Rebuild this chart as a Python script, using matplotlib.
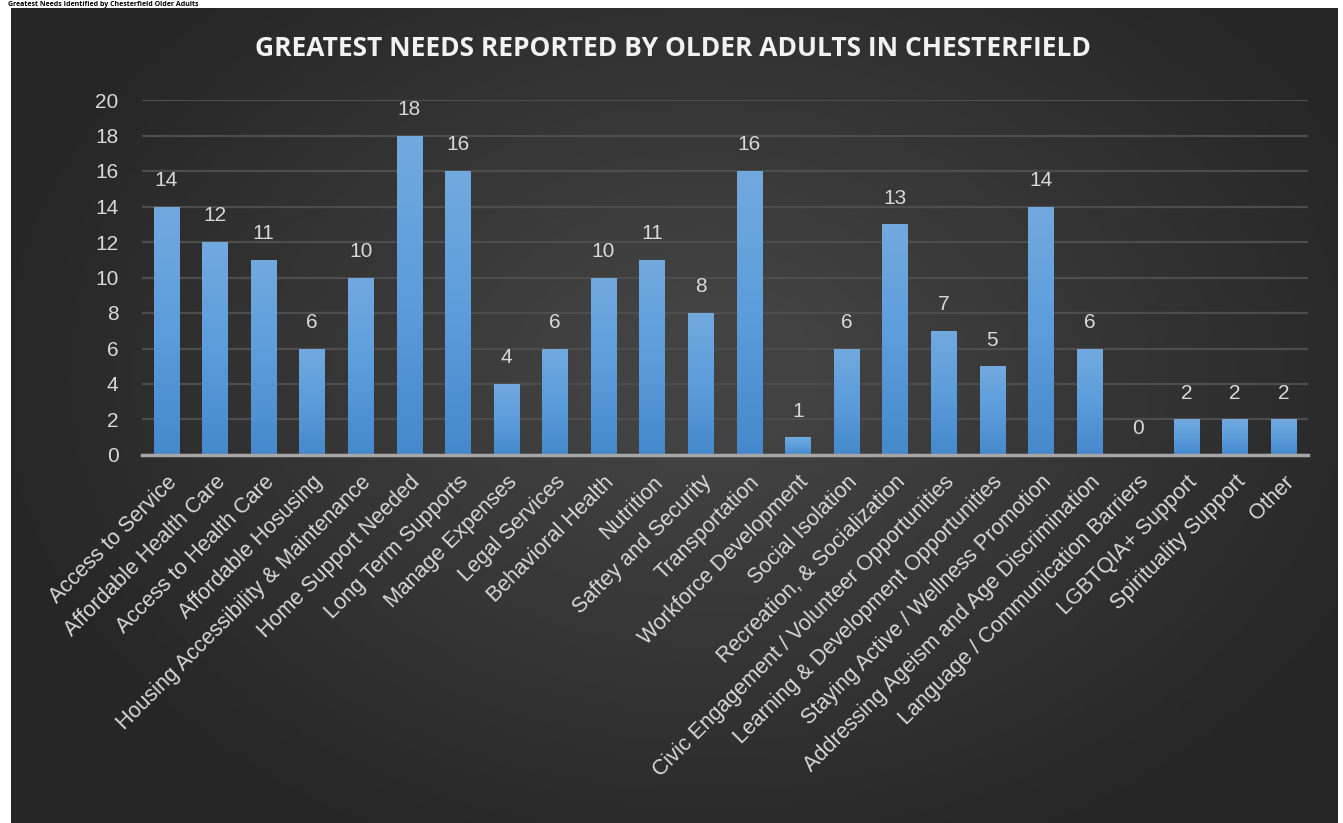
import numpy as np
import matplotlib
matplotlib.use("Agg")
import matplotlib.pyplot as plt
from matplotlib.colors import LinearSegmentedColormap

categories = [
    "Access to Service", "Affordable Health Care", "Access to Health Care",
    "Affordable Hosusing", "Housing Accessibility & Maintenance",
    "Home Support Needed", "Long Term Supports", "Manage Expenses",
    "Legal Services", "Behavioral Health", "Nutrition", "Saftey and Security",
    "Transportation", "Workforce Development", "Social Isolation",
    "Recreation, & Socialization", "Civic Engagement / Volunteer Opportunities",
    "Learning & Development Opportunities", "Staying Active / Wellness Promotion",
    "Addressing Ageism and Age Discrimination", "Language / Communication Barriers",
    "LGBTQIA+ Support", "Spirituality Support", "Other",
]
counts = [14, 12, 11, 6, 10, 18, 16, 4, 6, 10, 11, 8, 16, 1, 6, 13, 7, 5, 14, 6, 0, 2, 2, 2]
y_ticks = list(range(0, 21, 2))

title = "GREATEST NEEDS REPORTED BY OLDER ADULTS IN CHESTERFIELD"
cut_heading = "Greatest Needs Identified by Chesterfield Older Adults"

W, H = 1343, 823
fig = plt.figure(figsize=(W / 100, H / 100), dpi=100, facecolor="white")

# heading above the chart (cropped in the source, kept small here)
fig.text(8 / W, 1 - 4 / H, cut_heading, fontsize=5, fontweight="bold",
         color="black", family="Open Sans", ha="left", va="center")

# dark panel with soft radial gradient
bg = fig.add_axes([11 / W, 0, (1338 - 11) / W, (H - 8) / H])
bg.set_axis_off()
gx, gy = np.meshgrid(np.linspace(-1, 1, 400), np.linspace(-1, 1, 250))
r = np.sqrt(((gx - 0.05) / 1.1) ** 2 + ((gy + 0.1) / 1.3) ** 2)
shade = np.clip(1 - r, 0, 1)
bg_cmap = LinearSegmentedColormap.from_list("bg", ["#262626", "#424242"])
bg.imshow(shade, cmap=bg_cmap, aspect="auto", extent=[0, 1, 0, 1], vmin=0, vmax=0.85)
bg.set_xlim(0, 1)
bg.set_ylim(0, 1)

ax = fig.add_axes([142 / W, 1 - 455 / H, (1308 - 142) / W, (455 - 100) / H])
ax.patch.set_alpha(0)
x = np.arange(len(categories))
bars = ax.bar(x, counts, width=0.52, color="#5b9bd5", zorder=3)

# vertical gradient inside each bar
bar_cmap = LinearSegmentedColormap.from_list("bar", ["#4589cc", "#5c9ddb", "#72a9df"])
grad = np.linspace(0, 1, 256).reshape(-1, 1)
for b in bars:
    h = b.get_height()
    if h <= 0:
        continue
    x0 = b.get_x()
    im = ax.imshow(grad, cmap=bar_cmap, origin="lower", aspect="auto",
                   extent=[x0, x0 + b.get_width(), 0, h], zorder=3)
    im.set_clip_path(b)

ax.set_xlim(-0.5, len(categories) - 0.5)
ax.set_ylim(0, 20)
ax.set_yticks(y_ticks)
ax.set_yticklabels([str(t) for t in y_ticks], fontsize=15, color="#d9d9d9",
                   family="Liberation Sans")
ax.tick_params(axis="y", length=0, pad=17)
ax.tick_params(axis="x", length=0, pad=12)
ax.grid(axis="y", color="#4d4d4d", linewidth=1.6, zorder=1)
for s in ["top", "right", "left"]:
    ax.spines[s].set_visible(False)
ax.spines["bottom"].set_color("#a6a6a6")
ax.spines["bottom"].set_linewidth(2.5)
ax.spines["bottom"].set_zorder(4)

ax.set_xticks(x)
ax.set_xticklabels(categories, rotation=45, ha="right", rotation_mode="anchor",
                   fontsize=15.5, color="#d9d9d9", family="Liberation Sans")

for xi, v in zip(x, counts):
    ax.annotate(str(v), (xi, v), xytext=(0, 12), textcoords="offset points",
                ha="center", va="bottom", fontsize=15, color="#d9d9d9",
                family="Liberation Sans")

fig.text(673 / W, 1 - 49 / H, title, fontsize=19, fontweight="bold",
         color="#f2f2f2", family="Open Sans", ha="center", va="center")

fig.savefig("out.png", dpi=100, facecolor="white")
